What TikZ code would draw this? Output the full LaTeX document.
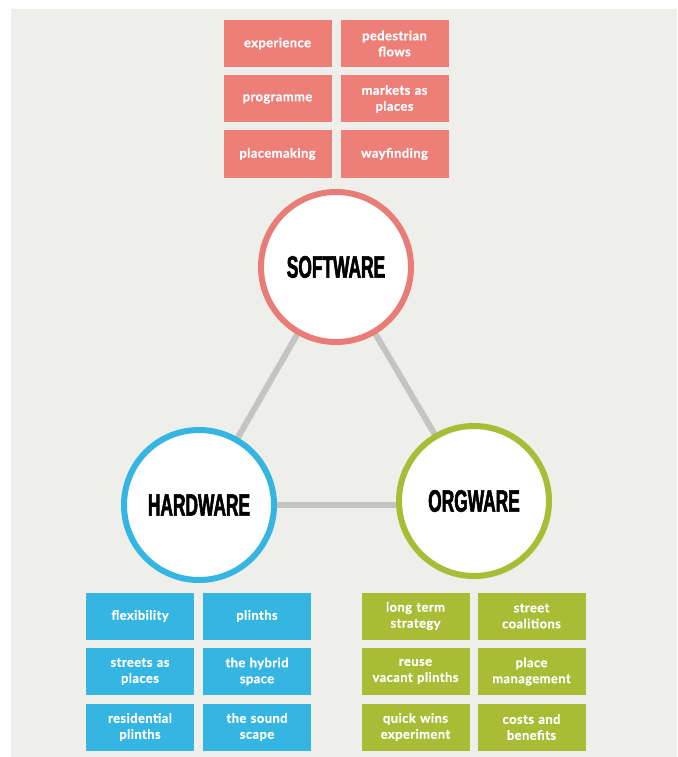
\documentclass[tikz,border=0pt]{standalone}
\usepackage{fontspec}
\usetikzlibrary{backgrounds}
\setmainfont{Lato}
\newfontfamily\tilefont[LetterSpace=3,FakeBold=0.6]{Lato}
\newfontfamily\headfont[FakeStretch=0.56,FakeBold=1.8]{Liberation Sans Bold}
\definecolor{bgc}{HTML}{EEEEEA}
\definecolor{pinkc}{HTML}{EE7F78}
\definecolor{pinkring}{HTML}{E97C77}
\definecolor{bluec}{HTML}{35B5E2}
\definecolor{greenc}{HTML}{A9BC35}
\definecolor{linkc}{HTML}{C4C4C2}
\tikzset{
  tile/.style={rectangle, minimum width=108pt, minimum height=47pt, inner sep=0pt,
    text width=106pt, align=center, text=white, font=\fontsize{13}{16}\selectfont\tilefont\bfseries},
  pinktile/.style={tile, fill=pinkc},
  bluetile/.style={tile, fill=bluec},
  greentile/.style={tile, fill=greenc},
  hub/.style={circle, minimum size=150pt, inner sep=0pt, fill=white, line width=6pt,
    font=\fontsize{31}{31}\selectfont\headfont},
  link/.style={draw=linkc, line width=6pt}
}
\begin{document}
\begin{tikzpicture}[x=1pt,y=-1pt]
\useasboundingbox (0,0) rectangle (677,757);
% top pink tiles
\node[pinktile] (p1) at (277.5,43.5) {experience};
\node[pinktile] (p2) at (394.5,43.5) {pedestrian\\flows};
\node[pinktile] (p3) at (277.5,99) {programme};
\node[pinktile] (p4) at (394.5,99) {markets as\\places};
\node[pinktile] (p5) at (277.5,154) {placemaking};
\node[pinktile] (p6) at (394.5,154) {wayfinding};
% hubs
\node[hub, draw=pinkring] (sw) at (336,267) {SOFTWARE};
\node[hub, draw=bluec] (hw) at (199,505) {HARDWARE};
\node[hub, draw=greenc] (ow) at (474,501) {ORGWARE};
\begin{scope}[on background layer]
\fill[bgc] (11,9) rectangle (677,757);
\draw[link] (sw.center) -- (hw.center);
\draw[link] (sw.center) -- (ow.center);
\draw[link] (hw.center) -- (ow.west |- hw.center);
\end{scope}
% bottom blue tiles
\node[bluetile] (b1) at (140,616) {flexibility};
\node[bluetile] (b2) at (257,616) {plinths};
\node[bluetile] (b3) at (140,671.5) {streets as\\places};
\node[bluetile] (b4) at (257,671.5) {the hybrid\\space};
\node[bluetile] (b5) at (140,727) {residential\\plinths};
\node[bluetile] (b6) at (257,727) {the sound\\scape};
% bottom green tiles
\node[greentile] (g1) at (415.5,616) {long term\\strategy};
\node[greentile] (g2) at (531.5,616) {street\\coalitions};
\node[greentile] (g3) at (415.5,671.5) {reuse\\vacant plinths};
\node[greentile] (g4) at (531.5,671.5) {place\\management};
\node[greentile] (g5) at (415.5,727) {quick wins\\experiment};
\node[greentile] (g6) at (531.5,727) {costs and\\benefits};
\end{tikzpicture}
\end{document}
